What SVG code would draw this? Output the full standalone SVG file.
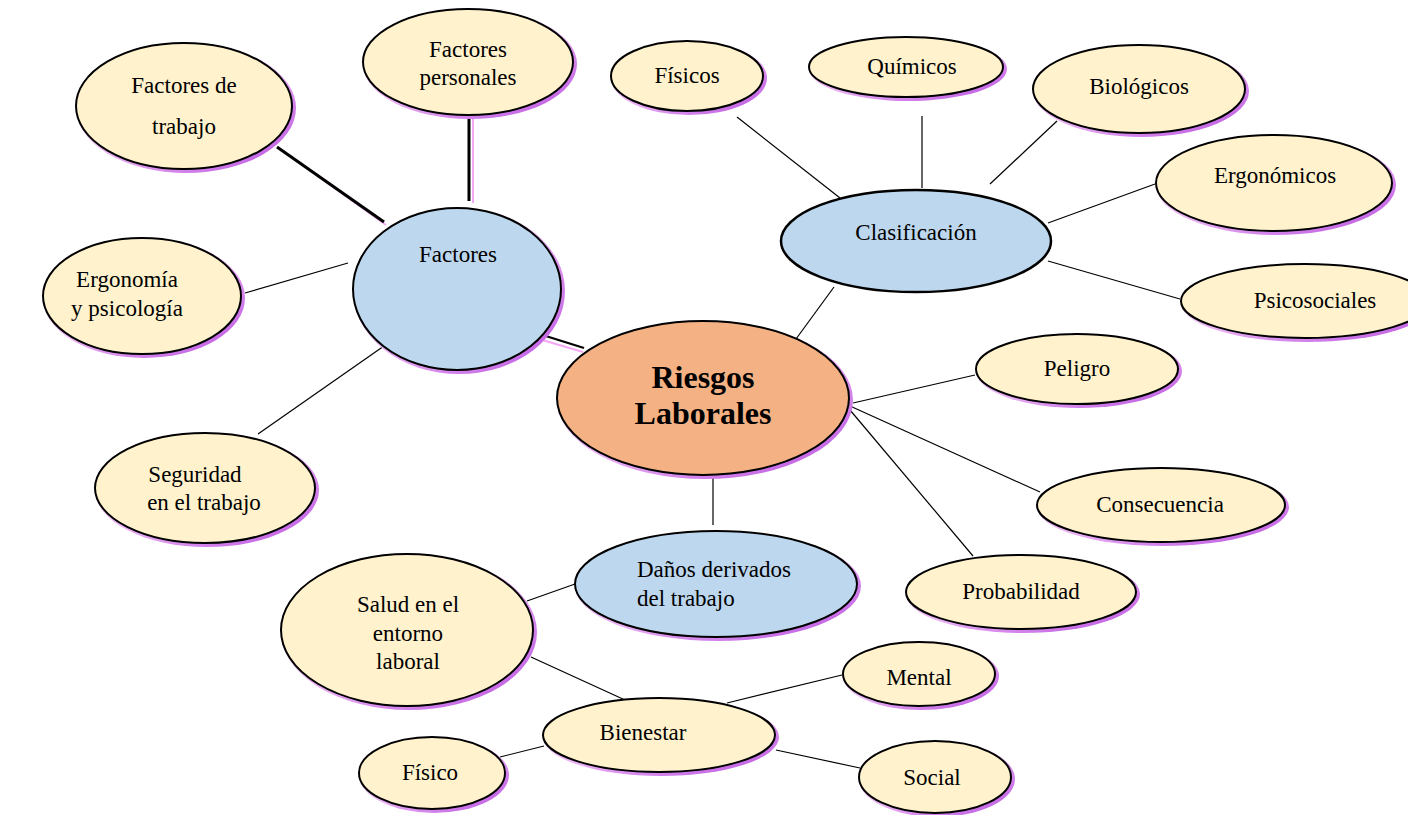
<svg xmlns="http://www.w3.org/2000/svg" width="1408" height="815" viewBox="0 0 1408 815">
<defs>
<linearGradient id="sh" x1="0" y1="0" x2="1" y2="1">
<stop offset="0" stop-color="#f8d0f8"/>
<stop offset="0.5" stop-color="#eab0f4"/>
<stop offset="1" stop-color="#b84ee0"/>
</linearGradient>
<style>
.s{fill:url(#sh);stroke:none}
.c{fill:#FFF2CC;stroke:#000;stroke-width:2}
.b{fill:#BDD7EE;stroke:#000;stroke-width:2}
.o{fill:#F4B183;stroke:#000;stroke-width:2}
.ln{stroke:#000;stroke-width:1.2;fill:none}
.tk{stroke:#000;stroke-width:3;fill:none}
.pk{stroke:#f5a8f5;stroke-width:2;fill:none}
text{font-family:"Liberation Serif","Times New Roman",serif;font-size:23px;fill:#000;text-anchor:middle}
.big{font-size:32px;font-weight:bold}
</style>
</defs>
<rect width="1408" height="815" fill="#fff"/>
<g id="connectors">
<line class="pk" x1="280" y1="149" x2="386" y2="225"/>
<line class="tk" x1="277" y1="147" x2="384" y2="222"/>
<line class="pk" x1="473" y1="116" x2="473" y2="203"/>
<line class="tk" x1="469" y1="116" x2="469" y2="201"/>
<line class="ln" x1="245" y1="293" x2="348" y2="263"/>
<line class="ln" x1="258" y1="434" x2="394" y2="339"/>
<line class="pk" x1="532" y1="337" x2="583" y2="352"/>
<line class="ln" x1="533" y1="332" x2="584" y2="348" style="stroke-width:2"/>
<line class="ln" x1="796" y1="339" x2="834" y2="287"/>
<line class="ln" x1="737" y1="117" x2="840" y2="198"/>
<line class="ln" x1="922" y1="116" x2="922" y2="188"/>
<line class="ln" x1="990" y1="184" x2="1057" y2="121"/>
<line class="ln" x1="1048" y1="223" x2="1155" y2="184"/>
<line class="ln" x1="1048" y1="261" x2="1180" y2="299"/>
<line class="ln" x1="853" y1="403" x2="975" y2="375"/>
<line class="ln" x1="850" y1="406" x2="1040" y2="492"/>
<line class="ln" x1="850" y1="410" x2="973" y2="556"/>
<line class="ln" x1="713" y1="476" x2="713" y2="525"/>
<line class="ln" x1="527" y1="601" x2="575" y2="584"/>
<line class="ln" x1="531" y1="657" x2="625" y2="700"/>
<line class="ln" x1="727" y1="703" x2="842" y2="675"/>
<line class="ln" x1="500" y1="757" x2="544" y2="746"/>
<line class="ln" x1="776" y1="750" x2="860" y2="768"/>
</g>
<g id="n-factores-trabajo">
<ellipse class="s" cx="186" cy="108" rx="110" ry="65"/>
<ellipse class="c" cx="184" cy="106" rx="108" ry="63"/>
<text x="184" y="93">Factores de</text>
<text x="184" y="134">trabajo</text>
</g>
<g id="n-factores-personales">
<ellipse class="s" cx="470" cy="64" rx="107" ry="55"/>
<ellipse class="c" cx="468" cy="62" rx="105" ry="53"/>
<text x="468" y="57">Factores</text>
<text x="468" y="85">personales</text>
</g>
<g id="n-factores">
<ellipse class="s" cx="459" cy="291" rx="106" ry="83"/>
<ellipse class="b" cx="457" cy="289" rx="104" ry="81"/>
<text x="458" y="262">Factores</text>
</g>
<g id="n-ergonomia">
<ellipse class="s" cx="144" cy="298" rx="101" ry="60"/>
<ellipse class="c" cx="142" cy="296" rx="99" ry="58"/>
<text x="127" y="287">Ergonomía</text>
<text x="127" y="316">y psicología</text>
</g>
<g id="n-seguridad">
<ellipse class="s" cx="207" cy="490" rx="112" ry="57"/>
<ellipse class="c" cx="205" cy="488" rx="110" ry="55"/>
<text x="195" y="482">Seguridad</text>
<text x="204" y="510">en el trabajo</text>
</g>
<g id="n-riesgos">
<ellipse class="s" cx="705" cy="400" rx="148" ry="79"/>
<ellipse class="o" cx="703" cy="398" rx="146" ry="77"/>
<text class="big" x="703" y="388">Riesgos</text>
<text class="big" x="703" y="424">Laborales</text>
</g>
<g id="n-clasificacion">
<ellipse class="b" cx="916" cy="241" rx="135" ry="51" style="stroke-width:2.5"/>
<text x="916" y="240">Clasificación</text>
</g>
<g id="n-fisicos">
<ellipse class="s" cx="689" cy="78" rx="78" ry="37"/>
<ellipse class="c" cx="687" cy="76" rx="76" ry="35"/>
<text x="687" y="83">Físicos</text>
</g>
<g id="n-quimicos">
<ellipse class="s" cx="908" cy="69" rx="99" ry="32"/>
<ellipse class="c" cx="906" cy="67" rx="97" ry="30"/>
<text x="912" y="74">Químicos</text>
</g>
<g id="n-biologicos">
<ellipse class="s" cx="1141" cy="91" rx="108" ry="46"/>
<ellipse class="c" cx="1139" cy="89" rx="106" ry="44"/>
<text x="1139" y="94">Biológicos</text>
</g>
<g id="n-ergonomicos">
<ellipse class="s" cx="1276" cy="185" rx="120" ry="50"/>
<ellipse class="c" cx="1274" cy="183" rx="118" ry="48"/>
<text x="1275" y="183">Ergonómicos</text>
</g>
<g id="n-psicosociales">
<ellipse class="s" cx="1307" cy="303" rx="126" ry="39"/>
<ellipse class="c" cx="1305" cy="301" rx="124" ry="37"/>
<text x="1315" y="308">Psicosociales</text>
</g>
<g id="n-peligro">
<ellipse class="s" cx="1079" cy="371" rx="103" ry="37"/>
<ellipse class="c" cx="1077" cy="369" rx="101" ry="35"/>
<text x="1077" y="376">Peligro</text>
</g>
<g id="n-consecuencia">
<ellipse class="s" cx="1163" cy="507" rx="126" ry="39"/>
<ellipse class="c" cx="1161" cy="505" rx="124" ry="37"/>
<text x="1160" y="512">Consecuencia</text>
</g>
<g id="n-probabilidad">
<ellipse class="s" cx="1023" cy="594" rx="117" ry="39"/>
<ellipse class="c" cx="1021" cy="592" rx="115" ry="37"/>
<text x="1021" y="599">Probabilidad</text>
</g>
<g id="n-danos">
<ellipse class="s" cx="718" cy="586" rx="143" ry="55"/>
<ellipse class="b" cx="716" cy="584" rx="141" ry="53"/>
<text x="637" y="577" style="text-anchor:start">Daños derivados</text>
<text x="637" y="606" style="text-anchor:start">del trabajo</text>
</g>
<g id="n-salud">
<ellipse class="s" cx="409" cy="632" rx="128" ry="78"/>
<ellipse class="c" cx="407" cy="630" rx="126" ry="76"/>
<text x="408" y="612">Salud en el</text>
<text x="408" y="641">entorno</text>
<text x="408" y="669">laboral</text>
</g>
<g id="n-bienestar">
<ellipse class="s" cx="661" cy="737" rx="118" ry="39"/>
<ellipse class="c" cx="659" cy="735" rx="116" ry="37"/>
<text x="643" y="740">Bienestar</text>
</g>
<g id="n-mental">
<ellipse class="s" cx="921" cy="676" rx="78" ry="34"/>
<ellipse class="c" cx="919" cy="674" rx="76" ry="32"/>
<text x="919" y="685">Mental</text>
</g>
<g id="n-fisico">
<ellipse class="s" cx="434" cy="775" rx="75" ry="38"/>
<ellipse class="c" cx="432" cy="773" rx="73" ry="36"/>
<text x="430" y="780">Físico</text>
</g>
<g id="n-social">
<ellipse class="s" cx="937" cy="779" rx="78" ry="38"/>
<ellipse class="c" cx="935" cy="777" rx="76" ry="36"/>
<text x="932" y="785">Social</text>
</g>
</svg>
